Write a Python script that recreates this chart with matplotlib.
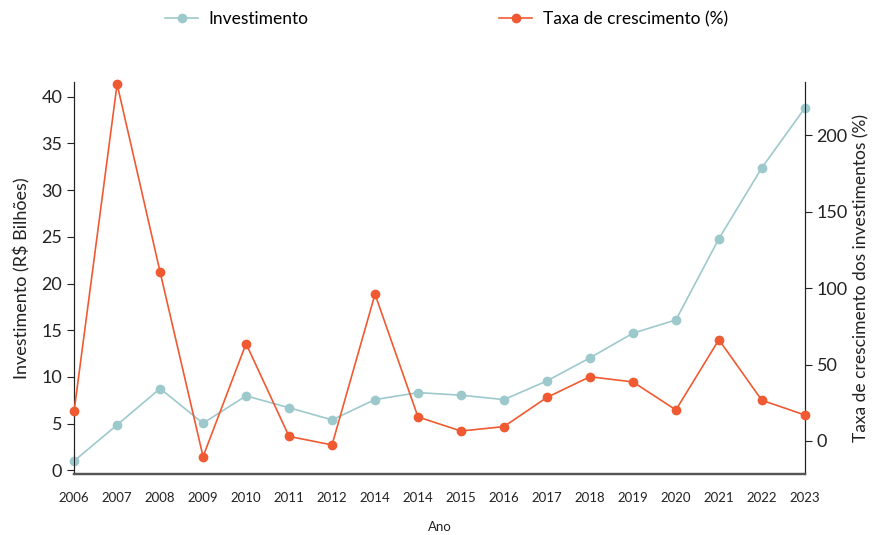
import matplotlib
matplotlib.use("Agg")
import matplotlib.pyplot as plt
from matplotlib.lines import Line2D

plt.rcParams['font.family'] = ['Lato', 'DejaVu Sans']

years = ["2006", "2007", "2008", "2009", "2010", "2011", "2012", "2014", "2014",
         "2015", "2016", "2017", "2018", "2019", "2020", "2021", "2022", "2023"]
investimento = [1.0, 4.86, 8.75, 5.04, 7.97, 6.7, 5.4, 7.57, 8.32,
                8.04, 7.57, 9.57, 12.04, 14.68, 16.1, 24.8, 32.4, 38.8]
taxa = [19.6, 233.3, 110.5, -10.2, 63.6, 3.0, -2.6, 96.0, 15.7,
        6.5, 9.4, 28.5, 42.0, 38.6, 20.3, 66.2, 26.6, 17.0]

teal = "#9ec9cc"
orange = "#f05a32"

fig = plt.figure(figsize=(8.72, 5.35), dpi=100)
ax = fig.add_axes([0.085, 0.114, 0.838, 0.733])
ax2 = ax.twinx()

x = list(range(len(years)))
ax.plot(x, investimento, color=teal, marker='o', markersize=6, linewidth=1.2, zorder=3, clip_on=False)
ax2.plot(x, taxa, color=orange, marker='o', markersize=6, linewidth=1.2, zorder=3, clip_on=False)

ax.set_xlim(0, len(years) - 1)
ax.set_ylim(-0.4, 41.6)
ax2.set_ylim(-21.6, 234.8)
ax.set_yticks([0, 5, 10, 15, 20, 25, 30, 35, 40])
ax2.set_yticks([0, 50, 100, 150, 200])
ax.set_xticks(x)
ax.set_xticklabels(years)

for a in (ax, ax2):
    a.spines['top'].set_visible(False)
    a.spines['bottom'].set_color('#555555')
    a.spines['bottom'].set_linewidth(1.6)
    a.spines['left'].set_color('#222222')
    a.spines['right'].set_color('#222222')
ax.tick_params(axis='x', length=0, pad=13, labelsize=9.5, colors='#222222')
ax.tick_params(axis='y', length=5, labelsize=13, colors='#222222')
ax2.tick_params(axis='y', length=5, labelsize=13, colors='#222222')

ax.set_ylabel("Investimento (R$ Bilhões)", fontsize=13, color='#222222', labelpad=8)
ax2.set_ylabel("Taxa de crescimento dos investimentos (%)", fontsize=12.5, color='#222222', labelpad=4)
ax.set_xlabel("Ano", fontsize=9.5, color='#222222', labelpad=12)

handles = [Line2D([0], [0], color=teal, marker='o', markersize=6, linewidth=1.2),
           Line2D([0], [0], color=orange, marker='o', markersize=6, linewidth=1.2)]
fig.legend(handles, ["Investimento", "Taxa de crescimento (%)"], loc='upper center',
           bbox_to_anchor=(0.512, 1.008), ncol=2, frameon=False, fontsize=12.5,
           columnspacing=11, handlelength=1.9, handletextpad=0.6)

fig.savefig("out.png", dpi=100)
